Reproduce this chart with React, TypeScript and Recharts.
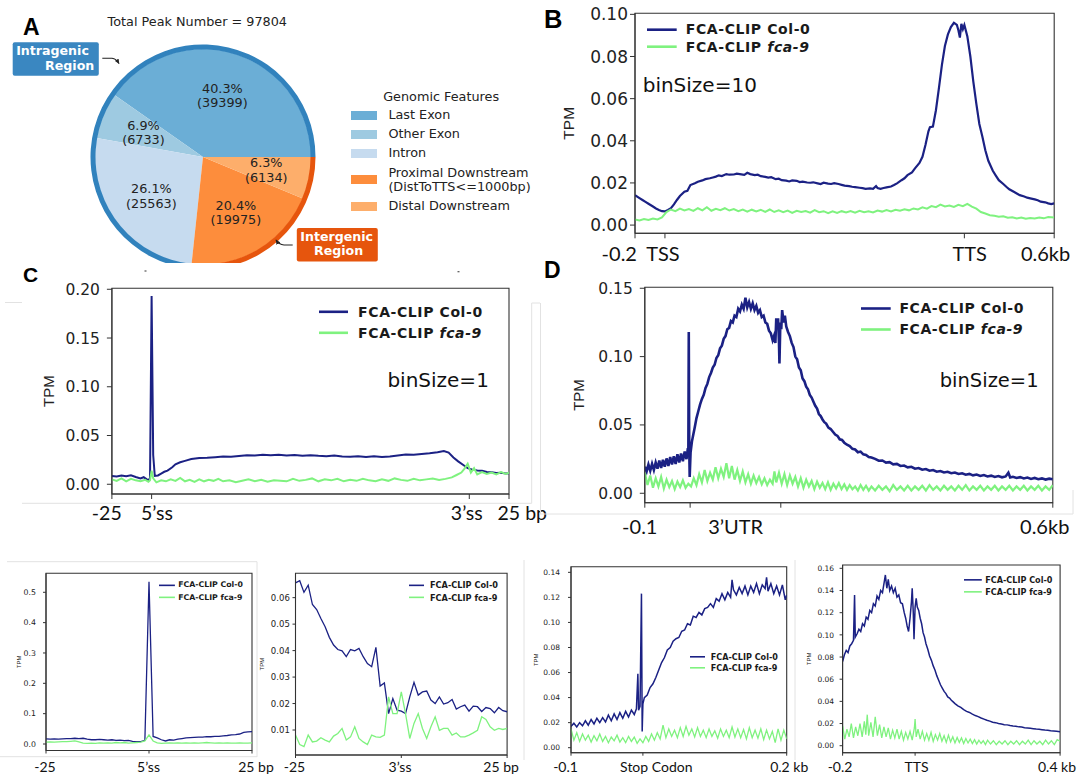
import React from "react";
import { PieChart, Pie, Cell, LineChart, Line, XAxis, YAxis, Legend, ReferenceArea, Label } from "recharts";

const NAVY = "#1b2184";
const LIME = "#7ff27f";

// ---- A: genomic features of peaks
const FEATURES = ["Last Exon", "Other Exon", "Intron", "Proximal Downstream\n(DistToTTS<=1000bp)", "Distal Downstream"];
const PEAKS = [39399, 6733, 25563, 19975, 6134];
const FEATURE_COLORS = ["#6baed6", "#9ecae1", "#c6dbef", "#fd8d3c", "#fdae6b"];
const REGIONS = ["Intragenic", "Intergenic"];
const REGION_OF = [0, 0, 0, 1, 1];
const REGION_COLORS = ["#3182bd", "#e6550d"];

// ---- B: scale-regions, bins of 10 bp (TSS = 20, TTS = 220)
const B_COL0: [number, number][] = [[0,.0142],[3,.0128],[5,.0119],[7,.0110],[9,.0101],[12,.0088],[14,.0079],[16,.0072],[18,.0066],[20,.0065],[22,.0072],[24,.0080],[26,.0098],[28,.0119],[30,.0138],[33,.0158],[35,.0163],[37,.0190],[40,.0199],[42,.0206],[45,.0212],[47,.0218],[50,.0222],[52,.0226],[54,.0230],[56,.0236],[58,.0233],[61,.0242],[63,.0239],[66,.0240],[68,.0244],[70,.0242],[73,.0238],[75,.0248],[77,.0242],[80,.0237],[82,.0239],[84,.0232],[87,.0229],[89,.0225],[91,.0227],[94,.0218],[96,.0220],[98,.0213],[101,.0211],[103,.0207],[105,.0212],[108,.0210],[110,.0204],[112,.0206],[115,.0202],[117,.0201],[119,.0203],[122,.0198],[124,.0195],[126,.0201],[129,.0197],[131,.0195],[133,.0199],[136,.0195],[138,.0191],[140,.0187],[143,.0185],[145,.0182],[147,.0180],[150,.0177],[152,.0175],[154,.0172],[157,.0174],[159,.0172],[161,.0185],[162,.0176],[164,.0172],[166,.0176],[168,.0179],[171,.0183],[173,.0190],[175,.0198],[178,.0213],[180,.0222],[182,.0237],[185,.0250],[187,.0269],[190,.0295],[192,.0324],[194,.0380],[196,.0445],[197,.0465],[199,.0468],[201,.0545],[203,.0650],[205,.0760],[207,.0850],[209,.0905],[211,.0940],[213,.0960],[215,.0950],[216,.0925],[217,.0890],[218,.0955],[219,.0930],[220,.0950],[222,.0895],[224,.0800],[226,.0680],[228,.0575],[230,.0480],[232,.0420],[234,.0355],[236,.0305],[239,.0258],[241,.0235],[243,.0213],[246,.0195],[248,.0182],[250,.0170],[253,.0158],[255,.0150],[257,.0142],[260,.0136],[262,.0130],[264,.0127],[267,.0122],[269,.0118],[271,.0111],[274,.0108],[276,.0103],[278,.0100],[280,.0103]];
const B_FCA9: [number, number][] = [[0,.0026],[3,.0022],[6,.0029],[9,.0024],[12,.0031],[15,.0027],[18,.0036],[21,.0062],[24,.0074],[27,.0066],[30,.0078],[33,.0069],[36,.0076],[39,.0067],[42,.0080],[45,.0070],[48,.0085],[51,.0068],[54,.0077],[57,.0071],[60,.0080],[63,.0069],[66,.0076],[69,.0066],[72,.0074],[75,.0064],[78,.0073],[81,.0065],[84,.0072],[87,.0063],[90,.0074],[93,.0062],[96,.0070],[99,.0061],[102,.0069],[105,.0058],[108,.0068],[111,.0062],[114,.0067],[117,.0059],[120,.0071],[123,.0061],[126,.0066],[129,.0057],[132,.0065],[135,.0058],[138,.0066],[141,.0060],[144,.0067],[147,.0059],[150,.0068],[153,.0061],[156,.0066],[159,.0060],[162,.0069],[165,.0064],[168,.0071],[171,.0065],[174,.0073],[177,.0068],[180,.0075],[183,.0070],[186,.0079],[189,.0074],[192,.0084],[195,.0078],[198,.0090],[201,.0085],[204,.0097],[207,.0088],[210,.0093],[213,.0086],[216,.0096],[219,.0090],[222,.0101],[225,.0088],[228,.0078],[231,.0062],[234,.0055],[237,.0047],[240,.0044],[243,.0040],[246,.0042],[249,.0035],[252,.0037],[255,.0031],[258,.0036],[261,.0030],[264,.0034],[267,.0031],[270,.0036],[273,.0032],[276,.0038],[280,.0036]];

// ---- C: introns, 1 bp bins (5'ss = 25, 3'ss = 225)
const C_COL0: [number, number][] = [[0,.0085],[3,.0080],[6,.0090],[9,.0082],[12,.0092],[15,.0075],[18,.0060],[20,.0072],[22,.0050],[23,.0045],[24,.0060],[25,.1930],[26,.0300],[27,.0085],[29,.0090],[31,.0110],[33,.0128],[35,.0140],[38,.0175],[40,.0205],[43,.0225],[46,.0240],[50,.0258],[55,.0270],[60,.0272],[65,.0278],[70,.0285],[75,.0282],[80,.0290],[85,.0298],[90,.0295],[95,.0303],[100,.0298],[105,.0302],[110,.0296],[115,.0300],[120,.0293],[125,.0298],[130,.0292],[135,.0288],[140,.0294],[145,.0285],[150,.0282],[155,.0288],[160,.0280],[165,.0286],[170,.0279],[175,.0284],[180,.0296],[185,.0305],[190,.0302],[195,.0310],[200,.0318],[205,.0328],[209,.0340],[212,.0325],[215,.0275],[218,.0235],[221,.0200],[224,.0165],[227,.0150],[230,.0142],[233,.0138],[236,.0125],[239,.0122],[242,.0115],[245,.0118],[248,.0110],[250,.0112]];
const C_FCA9: [number, number][] = [[0,.0050],[3,.0035],[6,.0060],[9,.0030],[12,.0055],[15,.0040],[18,.0030],[21,.0045],[23,.0025],[24,.0040],[25,.0140],[26,.0060],[28,.0020],[31,.0040],[34,.0030],[37,.0050],[40,.0035],[43,.0065],[46,.0030],[49,.0045],[52,.0025],[55,.0050],[58,.0030],[61,.0045],[64,.0035],[67,.0055],[70,.0030],[74,.0040],[78,.0020],[82,.0035],[86,.0050],[90,.0030],[94,.0045],[98,.0025],[102,.0040],[106,.0035],[110,.0030],[114,.0055],[118,.0035],[122,.0045],[126,.0060],[130,.0030],[134,.0050],[138,.0040],[142,.0055],[146,.0030],[150,.0045],[154,.0035],[158,.0055],[162,.0040],[166,.0030],[170,.0050],[174,.0035],[178,.0060],[182,.0045],[186,.0035],[190,.0055],[194,.0040],[198,.0050],[202,.0060],[206,.0045],[210,.0055],[214,.0070],[217,.0095],[220,.0120],[222,.0160],[224,.0210],[226,.0120],[228,.0165],[230,.0100],[233,.0125],[236,.0105],[239,.0120],[242,.0100],[245,.0125],[248,.0105],[250,.0120]];

// ---- D: 3'UTR, 1 bp bins (start = 100, end = 300)
const D_COL0: [number, number][] = [[0,.0195],[4,.0160],[8,.0210],[12,.0165],[16,.0215],[20,.0170],[24,.0225],[28,.0180],[32,.0240],[36,.0185],[40,.0245],[44,.0195],[48,.0255],[52,.0200],[56,.0265],[60,.0210],[64,.0270],[68,.0215],[72,.0285],[76,.0225],[80,.0290],[84,.0235],[88,.0305],[92,.0250],[95,.0330],[96,.0280],[97,.1180],[98,.0330],[99,.0120],[101,.0300],[104,.0380],[107,.0430],[110,.0480],[114,.0550],[118,.0600],[122,.0650],[126,.0690],[130,.0720],[134,.0770],[138,.0800],[142,.0850],[146,.0880],[150,.0920],[154,.0940],[158,.0990],[162,.1010],[166,.1060],[170,.1080],[174,.1130],[178,.1150],[182,.1200],[186,.1210],[190,.1260],[194,.1250],[198,.1300],[202,.1290],[206,.1350],[210,.1330],[214,.1380],[218,.1350],[222,.1430],[226,.1360],[230,.1400],[234,.1350],[238,.1390],[242,.1340],[246,.1370],[250,.1320],[254,.1340],[258,.1290],[262,.1300],[266,.1250],[270,.1240],[274,.1190],[278,.1170],[282,.1120],[285,.1150],[288,.1100],[290,.1280],[292,.1200],[294,.1280],[296,.1100],[297,.0950],[299,.1250],[301,.1200],[303,.1340],[306,.1250],[309,.1300],[312,.1220],[316,.1180],[320,.1150],[324,.1100],[328,.1070],[332,.1000],[336,.0980],[340,.0920],[344,.0900],[348,.0840],[352,.0820],[356,.0780],[360,.0760],[364,.0720],[368,.0700],[372,.0670],[376,.0640],[380,.0620],[384,.0580],[388,.0565],[392,.0540],[396,.0520],[400,.0510],[405,.0480],[410,.0470],[415,.0450],[420,.0430],[425,.0420],[430,.0395],[435,.0390],[440,.0370],[446,.0355],[452,.0345],[458,.0325],[464,.0320],[470,.0300],[476,.0305],[482,.0285],[488,.0280],[494,.0265],[500,.0262],[508,.0252],[516,.0238],[524,.0240],[532,.0224],[540,.0228],[548,.0212],[556,.0215],[564,.0200],[572,.0203],[580,.0190],[588,.0194],[596,.0180],[604,.0185],[612,.0172],[620,.0177],[628,.0165],[636,.0170],[644,.0158],[652,.0163],[660,.0152],[668,.0157],[676,.0147],[684,.0152],[692,.0141],[700,.0146],[708,.0136],[716,.0142],[724,.0131],[732,.0137],[740,.0127],[748,.0133],[756,.0123],[764,.0129],[772,.0119],[780,.0126],[788,.0117],[796,.0123],[802,.0150],[806,.0116],[812,.0121],[820,.0112],[828,.0118],[836,.0108],[844,.0115],[852,.0105],[860,.0112],[868,.0103],[876,.0109],[884,.0100],[892,.0107],[900,.0102]];
const D_FCA9: [number, number][] = [[0,.0150],[6,.0060],[12,.0130],[18,.0040],[24,.0110],[30,.0050],[36,.0120],[42,.0035],[48,.0100],[54,.0045],[60,.0090],[66,.0030],[72,.0085],[78,.0045],[84,.0095],[90,.0040],[96,.0070],[102,.0050],[108,.0110],[114,.0060],[120,.0140],[126,.0080],[132,.0170],[138,.0090],[144,.0150],[150,.0100],[156,.0190],[162,.0110],[168,.0180],[174,.0120],[180,.0220],[186,.0110],[192,.0200],[198,.0100],[204,.0170],[210,.0090],[216,.0160],[222,.0080],[228,.0140],[234,.0070],[240,.0130],[246,.0075],[252,.0120],[258,.0065],[264,.0110],[270,.0060],[276,.0100],[282,.0070],[286,.0160],[290,.0080],[296,.0150],[302,.0070],[308,.0140],[314,.0060],[320,.0130],[326,.0070],[332,.0120],[338,.0050],[344,.0110],[350,.0040],[356,.0100],[362,.0050],[368,.0090],[374,.0030],[380,.0085],[386,.0040],[392,.0075],[398,.0030],[404,.0080],[410,.0025],[416,.0070],[422,.0035],[428,.0075],[434,.0030],[440,.0065],[446,.0025],[452,.0060],[458,.0030],[464,.0050],[470,.0020],[476,.0060],[482,.0025],[488,.0055],[494,.0020],[500,.0050],[508,.0020],[516,.0055],[524,.0025],[532,.0050],[540,.0015],[548,.0060],[556,.0025],[564,.0050],[572,.0020],[580,.0055],[588,.0020],[596,.0050],[604,.0025],[612,.0055],[620,.0020],[628,.0060],[636,.0025],[644,.0050],[652,.0020],[660,.0055],[668,.0025],[676,.0050],[684,.0020],[692,.0055],[700,.0025],[708,.0060],[716,.0020],[724,.0050],[732,.0025],[740,.0055],[748,.0020],[756,.0050],[764,.0025],[772,.0055],[780,.0020],[788,.0050],[796,.0025],[804,.0055],[812,.0020],[820,.0050],[828,.0025],[836,.0055],[844,.0020],[852,.0050],[860,.0025],[868,.0055],[876,.0020],[884,.0050],[892,.0025],[900,.0060]];

// ---- bottom row: -25..25 bp around 5'ss and 3'ss (one value per bp)
const E1_COL0 = [.017,.016,.017,.016,.017,.018,.018,.019,.018,.019,.016,.014,.014,.015,.014,.013,.014,.012,.013,.011,.012,.009,.008,.008,.012,.535,.025,.020,.014,.010,.014,.013,.016,.018,.020,.021,.022,.023,.023,.024,.024,.025,.025,.027,.028,.030,.031,.033,.038,.040,.041];
const E1_FCA9 = [.006,.007,.006,.007,.008,.008,.009,.010,.007,.003,.002,.003,.002,.004,.003,.004,.003,.005,.004,.005,.003,.004,.005,.006,.010,.030,.010,.004,.002,.003,.004,.003,.004,.003,.004,.003,.004,.003,.004,.005,.004,.003,.004,.003,.004,.003,.003,.004,.003,.003,.004];
const E2_COL0 = [.0656,.0664,.0620,.0647,.0574,.0555,.0521,.0490,.0450,.0421,.0404,.0399,.0377,.0404,.0399,.0408,.0377,.0351,.0339,.0412,.0266,.0278,.0162,.0219,.0175,.0171,.0162,.0225,.0280,.0232,.0244,.0247,.0213,.0200,.0225,.0198,.0203,.0215,.0179,.0188,.0194,.0171,.0190,.0188,.0170,.0185,.0181,.0165,.0185,.0173,.0169];
const E2_FCA9 = [.0081,.0045,.0037,.0081,.0055,.0058,.0071,.0062,.0055,.0077,.0087,.0106,.0062,.0074,.0112,.0068,.0055,.0045,.0081,.0074,.0072,.0081,.0225,.0162,.0162,.0244,.0162,.0068,.0125,.0162,.0106,.0068,.0112,.0150,.0099,.0106,.0106,.0081,.0089,.0074,.0074,.0081,.0089,.0099,.0150,.0140,.0112,.0099,.0106,.0102,.0106];
const BP_START = -25;

// ---- stop codon (-100..200 bp) and TTS (-200..400 bp)
const E3_COL0: [number, number][] = [[-100,.0170],[-96,.0195],[-92,.0165],[-88,.0200],[-84,.0175],[-80,.0215],[-76,.0180],[-72,.0225],[-68,.0190],[-64,.0235],[-60,.0200],[-56,.0240],[-52,.0205],[-48,.0260],[-44,.0215],[-40,.0270],[-36,.0225],[-32,.0280],[-28,.0235],[-24,.0290],[-20,.0245],[-16,.0300],[-12,.0265],[-9,.0310],[-7,.0590],[-6,.0300],[-4,.0330],[-2,.1230],[-1,.0130],[0,.0350],[2,.0400],[6,.0420],[10,.0480],[14,.0510],[18,.0560],[22,.0620],[26,.0680],[30,.0720],[34,.0780],[38,.0800],[42,.0850],[46,.0870],[50,.0880],[54,.0930],[58,.0940],[62,.0990],[66,.0980],[70,.1050],[74,.1040],[78,.1080],[82,.1060],[86,.1110],[90,.1120],[94,.1150],[98,.1120],[102,.1190],[106,.1170],[110,.1230],[114,.1180],[118,.1240],[122,.1200],[124,.1340],[126,.1260],[130,.1220],[134,.1280],[138,.1230],[142,.1290],[146,.1220],[150,.1290],[154,.1240],[158,.1310],[162,.1230],[166,.1300],[170,.1270],[172,.1360],[174,.1250],[178,.1310],[182,.1230],[186,.1290],[190,.1220],[194,.1300],[198,.1180],[200,.1220]];
const E3_FCA9: [number, number][] = [[-100,.0150],[-96,.0060],[-92,.0120],[-88,.0050],[-84,.0110],[-80,.0060],[-76,.0100],[-72,.0045],[-68,.0095],[-64,.0055],[-60,.0110],[-56,.0050],[-52,.0090],[-48,.0040],[-44,.0085],[-40,.0055],[-36,.0100],[-32,.0045],[-28,.0080],[-24,.0040],[-20,.0090],[-16,.0050],[-12,.0085],[-8,.0035],[-4,.0070],[0,.0040],[4,.0090],[8,.0050],[12,.0110],[16,.0060],[20,.0120],[24,.0070],[28,.0180],[32,.0080],[36,.0150],[40,.0090],[44,.0140],[48,.0080],[52,.0160],[56,.0090],[60,.0170],[64,.0100],[68,.0150],[72,.0085],[76,.0160],[80,.0090],[84,.0140],[88,.0080],[92,.0150],[96,.0090],[100,.0135],[104,.0075],[108,.0150],[112,.0090],[116,.0140],[120,.0080],[124,.0165],[128,.0085],[132,.0150],[136,.0080],[140,.0145],[144,.0070],[148,.0160],[152,.0080],[156,.0140],[160,.0075],[164,.0150],[168,.0065],[172,.0140],[176,.0070],[180,.0130],[184,.0040],[188,.0150],[192,.0060],[196,.0140],[200,.0070]];
const E4_COL0: [number, number][] = [[-200,.0760],[-195,.0820],[-190,.0860],[-185,.0840],[-180,.0900],[-175,.0920],[-170,.0950],[-167,.1360],[-165,.0980],[-160,.1010],[-155,.1050],[-150,.1030],[-145,.1100],[-140,.1080],[-135,.1160],[-130,.1140],[-125,.1220],[-120,.1200],[-115,.1280],[-110,.1260],[-105,.1350],[-100,.1320],[-95,.1400],[-90,.1380],[-85,.1480],[-82,.1540],[-78,.1420],[-74,.1500],[-70,.1400],[-65,.1440],[-60,.1380],[-55,.1420],[-50,.1340],[-45,.1360],[-40,.1290],[-35,.1280],[-30,.1200],[-26,.1150],[-22,.1080],[-18,.1030],[-14,.1150],[-10,.1300],[-8,.1420],[-5,.1200],[-3,.0960],[0,.1250],[3,.1330],[6,.1250],[10,.1220],[14,.1150],[18,.1100],[22,.1020],[26,.0980],[30,.0920],[35,.0870],[40,.0810],[45,.0770],[50,.0720],[55,.0680],[60,.0630],[65,.0590],[70,.0550],[75,.0520],[80,.0490],[85,.0470],[90,.0440],[95,.0430],[100,.0410],[105,.0395],[110,.0380],[118,.0360],[126,.0345],[134,.0325],[142,.0310],[150,.0300],[158,.0285],[166,.0272],[174,.0262],[182,.0250],[190,.0240],[198,.0230],[206,.0222],[214,.0212],[222,.0208],[230,.0200],[238,.0196],[246,.0190],[254,.0188],[262,.0182],[270,.0178],[278,.0175],[286,.0170],[294,.0168],[302,.0163],[310,.0160],[318,.0157],[326,.0154],[334,.0150],[342,.0148],[350,.0145],[358,.0142],[366,.0140],[374,.0136],[382,.0133],[390,.0130],[400,.0126]];
const E4_FCA9: [number, number][] = [[-200,.0180],[-194,.0060],[-188,.0150],[-182,.0080],[-176,.0200],[-170,.0070],[-164,.0170],[-158,.0090],[-152,.0200],[-146,.0080],[-140,.0220],[-136,.0100],[-132,.0280],[-128,.0090],[-122,.0210],[-116,.0080],[-110,.0260],[-104,.0090],[-98,.0190],[-92,.0070],[-86,.0170],[-80,.0080],[-74,.0160],[-68,.0060],[-62,.0140],[-56,.0070],[-50,.0150],[-44,.0060],[-38,.0130],[-32,.0050],[-26,.0120],[-20,.0060],[-14,.0130],[-8,.0050],[-2,.0160],[0,.0240],[3,.0080],[8,.0150],[14,.0060],[20,.0130],[26,.0050],[32,.0110],[38,.0050],[44,.0120],[50,.0040],[56,.0100],[62,.0050],[68,.0110],[74,.0040],[80,.0090],[86,.0030],[92,.0095],[98,.0035],[104,.0080],[110,.0025],[116,.0075],[122,.0030],[128,.0070],[134,.0020],[140,.0065],[146,.0025],[152,.0060],[158,.0020],[164,.0055],[170,.0015],[176,.0050],[182,.0020],[188,.0045],[194,.0010],[200,.0050],[208,.0015],[216,.0045],[224,.0010],[232,.0040],[240,.0015],[248,.0045],[256,.0010],[264,.0040],[272,.0015],[280,.0045],[288,.0010],[296,.0040],[304,.0015],[312,.0050],[320,.0010],[328,.0045],[336,.0015],[344,.0040],[352,.0010],[360,.0050],[368,.0015],[376,.0045],[384,.0010],[392,.0055],[400,.0040]];

const SERIES = [
  { name: "FCA-CLIP Col-0", prefix: "FCA-CLIP ", tag: "Col-0", color: NAVY, slanted: false },
  { name: "FCA-CLIP fca-9", prefix: "FCA-CLIP ", tag: "fca-9", color: LIME, slanted: true },
];

const toPts = (pairs: [number, number][]) => pairs.map(([x, y]) => ({ x, y }));
const fromBp = (vals: number[]) => vals.map((y, i) => ({ x: BP_START + i, y }));

const RAD = Math.PI / 180;
const TOTAL = PEAKS.reduce((a, b) => a + b, 0);

function SliceLabel(props: any) {
  const { cx, cy, midAngle, value } = props;
  const r = 64.5;
  const x = cx + r * Math.cos(-midAngle * RAD);
  const y = cy + r * Math.sin(-midAngle * RAD);
  return (
    <text x={x} y={y} textAnchor="middle" fontFamily="DejaVu Sans" fontSize={12.8} fill="#222">
      <tspan x={x} dy={-2.6}>{((value / TOTAL) * 100).toFixed(1)}%</tspan>
      <tspan x={x} dy={14.6}>({value})</tspan>
    </text>
  );
}

function FeatureLegend() {
  return (
    <div style={{ fontFamily: "DejaVu Sans", fontSize: 12.8, color: "#222", textAlign: "left" }}>
      <div style={{ height: 19, lineHeight: "19px", paddingLeft: 32, whiteSpace: "nowrap" }}>Genomic Features</div>
      {FEATURES.map((f, i) => {
        const two = f.includes("\n");
        return (
          <div key={f} style={{ display: "flex", alignItems: "center", height: two ? 34 : 19 }}>
            <div style={{ width: 26, height: 9, background: FEATURE_COLORS[i], flex: "none" }} />
            <div style={{ marginLeft: 11.2, lineHeight: "14px", whiteSpace: "pre" }}>{f}</div>
          </div>
        );
      })}
    </div>
  );
}

function SeriesLegend({ lineW, gap, rowH, fontSize, strokeW, slant, spacing = 0 }: any) {
  return (
    <div style={{ fontFamily: "DejaVu Sans", fontWeight: 700, fontSize, letterSpacing: spacing, color: "#1a1a1a", whiteSpace: "nowrap", textAlign: "left" }}>
      {SERIES.map((s) => (
        <div key={s.name} style={{ display: "flex", alignItems: "center", height: rowH }}>
          <svg width={lineW} height={rowH} style={{ flex: "none", display: "block" }}>
            <line x1={0} x2={lineW} y1={rowH / 2} y2={rowH / 2} stroke={s.color} strokeWidth={strokeW} />
          </svg>
          <span style={{ marginLeft: gap, lineHeight: 1 }}>
            {s.prefix}
            {slant && s.slanted ? <i>{s.tag}</i> : s.tag}
          </span>
        </div>
      ))}
    </div>
  );
}

function Profile(cfg: any) {
  const { box, margin, yWidth, xHeight, x, y, col, fca, leg, tpm } = cfg;
  const xTick = (p: any) => {
    const i = x.ticks.indexOf(p.payload.value);
    return (
      <text x={p.x + (x.dx[i] ?? 0)} y={p.y + x.dy} textAnchor="middle" fontFamily="Lato" fontSize={x.size} fill="#111">
        {x.labels[i]}
      </text>
    );
  };
  const tpmLabel = (p: any) => {
    const vb = p.viewBox;
    const cx = vb.x + tpm.x;
    const cy = vb.y + vb.height / 2;
    return (
      <text x={cx} y={cy} transform={`rotate(-90 ${cx} ${cy})`} textAnchor="middle" dominantBaseline="central" fontFamily="Liberation Sans" fontSize={tpm.size} fill="#222">
        TPM
      </text>
    );
  };
  return (
    <div style={{ position: "absolute", left: box.left, top: box.top, background: box.bg }}>
      <LineChart width={box.w} height={box.h} margin={margin}>
        <XAxis type="number" dataKey="x" domain={x.domain} ticks={x.ticks} interval={0} allowDataOverflow height={xHeight}
          tickSize={x.tickSize} tickMargin={2} stroke="#333" tick={xTick} />
        <YAxis type="number" domain={y.domain} ticks={y.ticks} interval={0} allowDataOverflow width={yWidth}
          tickSize={x.tickSize} tickMargin={y.gap} stroke="#333"
          tick={{ fontFamily: "DejaVu Sans", fontSize: y.size, fill: "#222" }}
          tickFormatter={(v: number) => v.toFixed(y.digits)}>
          <Label content={tpmLabel} />
        </YAxis>
        <ReferenceArea x1={x.domain[0]} x2={x.domain[1]} y1={y.domain[0]} y2={y.domain[1]} fill="none" stroke="#333" strokeWidth={1.1} />
        <Line data={col} dataKey="y" name={SERIES[0].name} stroke={NAVY} strokeWidth={cfg.colW} dot={false} isAnimationActive={false} />
        <Line data={fca} dataKey="y" name={SERIES[1].name} stroke={LIME} strokeWidth={cfg.fcaW} dot={false} isAnimationActive={false} />
        <Legend layout="vertical" align="center" verticalAlign="middle"
          wrapperStyle={{ left: leg.left, top: leg.top, width: "auto" }}
          content={() => <SeriesLegend {...leg} />} />
      </LineChart>
    </div>
  );
}

export default function App() {
  const featureData = FEATURES.map((name, i) => ({ name, value: PEAKS[i] }));
  const regionData = REGIONS.map((name, r) => ({
    name,
    value: PEAKS.filter((_, i) => REGION_OF[i] === r).reduce((a, b) => a + b, 0),
  }));
  const big = { fontSize: 14, spacing: 0.6, strokeW: 2.6, slant: true };
  const small = { strokeW: 1.6, slant: false };
  const faint = "#e2e2e2";

  return (
    <div style={{ position: "absolute", left: 0, top: 0, width: 1079, height: 778, background: "#fff", overflow: "hidden" }}>
      <style>{".recharts-surface{overflow:visible}"}</style>

      <div style={{ position: "absolute", left: 0, top: 0 }}>
        <PieChart width={540} height={270}>
          <Pie data={featureData} dataKey="value" nameKey="name" cx={198} cy={152} outerRadius={108}
            startAngle={0} endAngle={360} stroke="none" isAnimationActive={false} label={SliceLabel} labelLine={false}>
            {featureData.map((d, i) => <Cell key={d.name} fill={FEATURE_COLORS[i]} />)}
          </Pie>
          <Pie data={regionData} dataKey="value" nameKey="name" cx={198} cy={152} innerRadius={107.5} outerRadius={112.5}
            startAngle={0} endAngle={360} stroke="none" isAnimationActive={false} legendType="none">
            {regionData.map((d, i) => <Cell key={d.name} fill={REGION_COLORS[i]} />)}
          </Pie>
          <Legend layout="vertical" align="center" verticalAlign="middle"
            wrapperStyle={{ left: 351.2, top: 86.5, width: 200 }} content={() => <FeatureLegend />} />
        </PieChart>
      </div>

      <Profile
        box={{ left: 540, top: 0, w: 539, h: 270 }}
        margin={{ top: 13.3, right: 24.8, bottom: 2.7, left: 0 }} yWidth={95} xHeight={34}
        x={{ domain: [0, 280], ticks: [0, 20, 220, 280], labels: ["-0.2", "TSS", "TTS", "0.6kb"], dx: [-15.7, -2, 5.3, -8.6], dy: 20.4, size: 20, tickSize: 5 }}
        y={{ domain: [-0.0039, 0.1005], ticks: [0, 0.02, 0.04, 0.06, 0.08, 0.1], digits: 2, size: 17, gap: 2 }}
        col={toPts(B_COL0)} fca={toPts(B_FCA9)} colW={2.2} fcaW={2}
        leg={{ ...big, left: 107.3, top: 20.6, lineW: 29.7, gap: 8.8, rowH: 17.4 }}
        tpm={{ x: 28.5, size: 15.5 }}
      />

      <Profile
        box={{ left: 22, top: 263, w: 510, h: 262, bg: "#fff" }}
        margin={{ top: 25.3, right: 23, bottom: 2, left: 0 }} yWidth={89.9} xHeight={29}
        x={{ domain: [0, 250], ticks: [0, 25, 225, 250], labels: ["-25", "5’ss", "3’ss", "25 bp"], dx: [-5.1, 5.4, -2.5, 13.3], dy: 19, size: 19.5, tickSize: 5 }}
        y={{ domain: [-0.01, 0.201], ticks: [0, 0.05, 0.1, 0.15, 0.2], digits: 2, size: 15.5, gap: 7 }}
        col={toPts(C_COL0)} fca={toPts(C_FCA9)} colW={2} fcaW={2}
        leg={{ ...big, left: 296.5, top: 37.9, lineW: 29.3, gap: 10.3, rowH: 21.6 }}
        tpm={{ x: 27, size: 15 }}
      />

      <Profile
        box={{ left: 540, top: 262, w: 539, h: 290 }}
        margin={{ top: 25.3, right: 26.2, bottom: 2.3, left: 0 }} yWidth={104.8} xHeight={47}
        x={{ domain: [0, 900], ticks: [0, 100, 300, 900], labels: ["-0.1", "3’UTR", "", "0.6kb"], dx: [-5, 45.5, 0, -8.1], dy: 24.3, size: 20, tickSize: 5 }}
        y={{ domain: [-0.0069, 0.1507], ticks: [0, 0.05, 0.1, 0.15], digits: 2, size: 15.5, gap: 7 }}
        col={toPts(D_COL0)} fca={toPts(D_FCA9)} colW={2.6} fcaW={2.2}
        leg={{ ...big, left: 320.9, top: 35.8, lineW: 29.7, gap: 8.8, rowH: 21 }}
        tpm={{ x: 38, size: 15 }}
      />

      <Profile
        box={{ left: 0, top: 560, w: 260, h: 218 }}
        margin={{ top: 13.3, right: 8, bottom: 2, left: 0 }} yWidth={46} xHeight={25.5}
        x={{ domain: [-25, 25], ticks: [-25, 0, 25], labels: ["-25", "5’ss", "25 bp"], dx: [-1, -0.5, 4], dy: 16.8, size: 14, tickSize: 3 }}
        y={{ domain: [-0.0214, 0.5626], ticks: [0, 0.1, 0.2, 0.3, 0.4, 0.5], digits: 1, size: 7.8, gap: 7 }}
        col={fromBp(E1_COL0)} fca={fromBp(E1_FCA9)} colW={1.3} fcaW={1.3}
        leg={{ ...small, left: 158.9, top: 18.65, lineW: 15.9, gap: 3.4, rowH: 12.7, fontSize: 7.8 }}
        tpm={{ x: 19.3, size: 6 }}
      />

      <Profile
        box={{ left: 260, top: 560, w: 265, h: 218 }}
        margin={{ top: 13.3, right: 17.9, bottom: 2, left: 0 }} yWidth={35.5} xHeight={21}
        x={{ domain: [-25, 25], ticks: [-25, 0, 25], labels: ["-25", "3’ss", "25 bp"], dx: [-1, -1.3, -6], dy: 12.3, size: 14, tickSize: 3 }}
        y={{ domain: [0.00056, 0.0692], ticks: [0.01, 0.02, 0.03, 0.04, 0.05, 0.06], digits: 2, size: 8.5, gap: 2.7 }}
        col={fromBp(E2_COL0)} fca={fromBp(E2_FCA9)} colW={1.3} fcaW={1.3}
        leg={{ ...small, left: 149, top: 18.65, lineW: 15.3, gap: 5.7, rowH: 12.7, fontSize: 8.2 }}
        tpm={{ x: 2, size: 6 }}
      />

      <Profile
        box={{ left: 525, top: 560, w: 270, h: 218 }}
        margin={{ top: 6.7, right: 8.3, bottom: 2, left: 0 }} yWidth={46} xHeight={23.3}
        x={{ domain: [-100, 200], ticks: [-100, 0, 200], labels: ["-0.1", "Stop Codon", "0.2 kb"], dx: [-5.5, 13.4, 2.5], dy: 14.6, size: 14, tickSize: 3 }}
        y={{ domain: [-0.004, 0.1445], ticks: [0, 0.02, 0.04, 0.06, 0.08, 0.1, 0.12, 0.14], digits: 2, size: 7.5, gap: 8 }}
        col={toPts(E3_COL0)} fca={toPts(E3_FCA9)} colW={1.5} fcaW={1.3}
        leg={{ ...small, left: 165.4, top: 90.9, lineW: 15, gap: 5.3, rowH: 11.6, fontSize: 8.1 }}
        tpm={{ x: 11, size: 6 }}
      />

      <Profile
        box={{ left: 795, top: 560, w: 284, h: 218 }}
        margin={{ top: 5, right: 18.9, bottom: 2, left: 0 }} yWidth={47.6} xHeight={23.3}
        x={{ domain: [-200, 400], ticks: [-200, 0, 400], labels: ["-0.2", "TTS", "0.4 kb"], dx: [-2.6, 1.5, -3.1], dy: 14.6, size: 14, tickSize: 3 }}
        y={{ domain: [-0.0063, 0.163], ticks: [0, 0.02, 0.04, 0.06, 0.08, 0.1, 0.12, 0.14, 0.16], digits: 2, size: 7.5, gap: 5.5 }}
        col={toPts(E4_COL0)} fca={toPts(E4_FCA9)} colW={1.5} fcaW={1.3}
        leg={{ ...small, left: 168.9, top: 14.15, lineW: 17.8, gap: 3.5, rowH: 11.7, fontSize: 8.1 }}
        tpm={{ x: 14.5, size: 6 }}
      />

      <svg width={1079} height={778} style={{ position: "absolute", left: 0, top: 0, pointerEvents: "none" }}>
        <defs>
          <marker id="ah" viewBox="0 0 10 10" refX="8" refY="5" markerWidth="5" markerHeight="5" orient="auto-start-reverse">
            <path d="M0,1 L9,5 L0,9 Z" fill="#222" />
          </marker>
        </defs>

        {/* faint panel borders */}
        <g stroke={faint} strokeWidth={1}>
          <line x1={5} y1={302.5} x2={22} y2={302.5} />
          <line x1={531.7} y1={303} x2={540} y2={303} />
          <line x1={22} y1={503.3} x2={531.7} y2={503.3} />
          <line x1={531.7} y1={303} x2={531.7} y2={503.3} />
          <line x1={540.5} y1={303} x2={540.5} y2={514} />
          <line x1={540} y1={514} x2={1073} y2={514} />
          <line x1={1073} y1={490} x2={1073} y2={514} />
          <line x1={7} y1={561.7} x2={257} y2={561.7} />
          <line x1={257} y1={561.7} x2={257} y2={757} />
          <line x1={0} y1={756.7} x2={257} y2={756.7} />
          <line x1={524} y1={560} x2={524} y2={760} />
          <line x1={795} y1={560} x2={795} y2={760} />
        </g>
        <line x1={144.5} y1={271} x2={146.5} y2={271} stroke="#555" strokeWidth={1.2} />
        <line x1={457.5} y1={271.7} x2={459.5} y2={271.7} stroke="#555" strokeWidth={1.2} />

        {/* panel letters */}
        <g fontFamily="Liberation Sans" fontWeight={700} fill="#000">
          <text x={23} y={35} fontSize={23}>A</text>
          <text x={544} y={28.3} fontSize={25.5}>B</text>
          <text x={23} y={281.7} fontSize={21}>C</text>
          <text x={544} y={278.3} fontSize={23}>D</text>
        </g>

        {/* panel A annotations */}
        <text x={197.3} y={25.5} textAnchor="middle" fontFamily="DejaVu Sans" fontSize={12.8} fill="#222">Total Peak Number = {TOTAL}</text>
        <rect x={12.7} y={42.3} width={86.1} height={33.4} rx={2} fill="#3a87c1" />
        <g fontFamily="DejaVu Sans" fontWeight={700} fontSize={12.6} fill="#fff">
          <text x={16.2} y={55.3}>Intragenic</text>
          <text x={45.1} y={69.6}>Region</text>
        </g>
        <path d="M102.3 58.3 L112 58.3 Q116 58.6 119 63.5" fill="none" stroke="#222" strokeWidth={1.1} markerEnd="url(#ah)" />
        <rect x={296.8} y={228} width={81} height={33.4} rx={2} fill="#e6550d" />
        <g fontFamily="DejaVu Sans" fontWeight={700} fontSize={12.6} fill="#fff">
          <text x={300.3} y={240.6}>Intergenic</text>
          <text x={314} y={255.3}>Region</text>
        </g>
        <path d="M292.7 245 L284 245 Q279 244.6 276 240" fill="none" stroke="#222" strokeWidth={1.1} markerEnd="url(#ah)" />

        {/* bin sizes */}
        <g fontFamily="DejaVu Sans" fill="#111">
          <text x={642.7} y={91.7} fontSize={20}>binSize=10</text>
          <text x={387.4} y={386.7} fontSize={20}>binSize=1</text>
          <text x={939.7} y={386.7} fontSize={19.5}>binSize=1</text>
        </g>
      </svg>
    </div>
  );
}
